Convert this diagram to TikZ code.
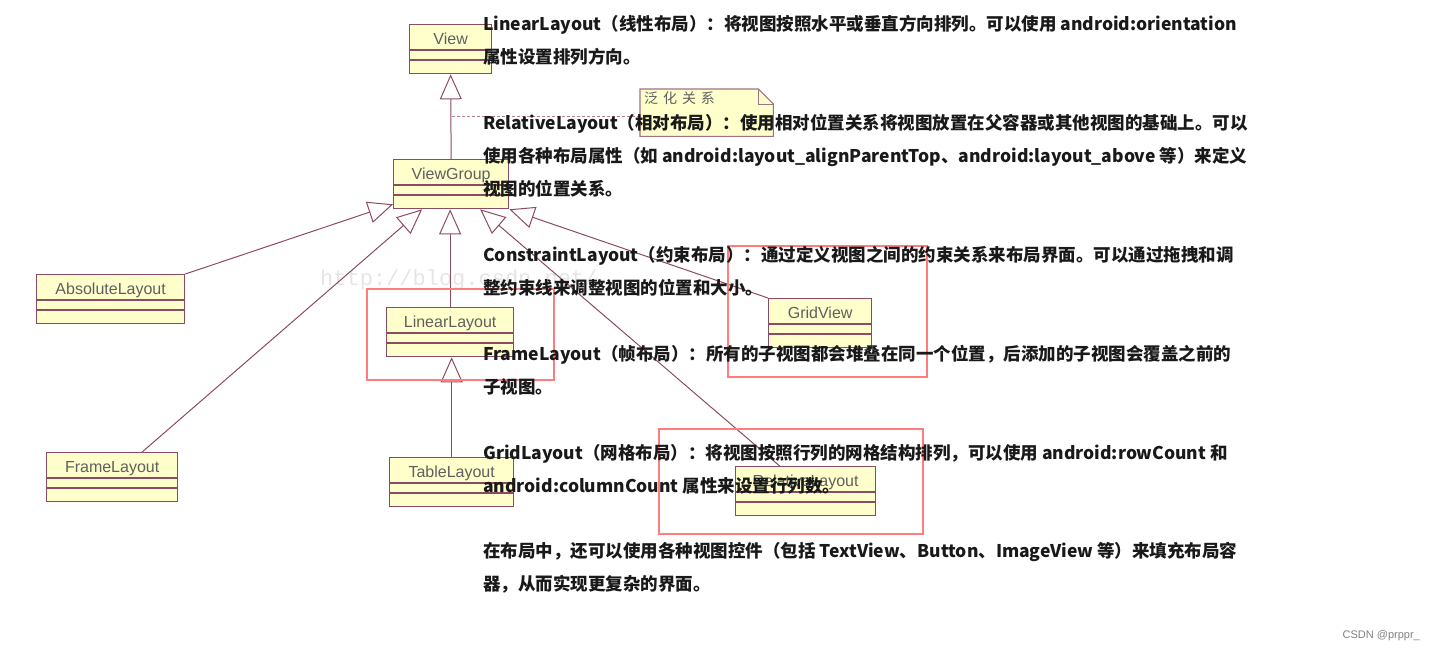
\documentclass[tikz,border=0pt]{standalone}
\usepackage{fontspec}
\setmainfont{Liberation Sans}
\newfontfamily\cjk{Noto Sans CJK SC}
\newfontfamily\notefont[LetterSpace=35]{Noto Sans CJK SC}
\newfontfamily\wmfont{Liberation Mono}
\usetikzlibrary{arrows.meta,positioning,calc}

\definecolor{umlline}{RGB}{140,75,100}
\definecolor{umlfill}{RGB}{255,255,204}
\definecolor{umltext}{RGB}{95,95,95}
\definecolor{hilite}{RGB}{255,125,125}

\begin{document}
\begin{tikzpicture}[
  x=1pt, y=-1pt,
  cls/.style={draw=umlline, fill=umlfill, line width=1.3pt, anchor=north west,
    text=umltext, font=\fontsize{16}{18}\selectfont, inner xsep=0pt,
    inner ysep=7pt, text height=13pt, text depth=22pt},
  gen/.style={draw=umlline, line width=1pt,
    -{Triangle[open, length=25pt, width=22pt]}},
  sep/.style={draw=umlline, line width=1.3pt},
  box/.style={draw=hilite, line width=1.6pt},
  txt/.style={anchor=base west, inner sep=0pt, align=left, text=black!90,
    font=\cjk\bfseries\fontsize{17.5}{33}\selectfont}
]
\useasboundingbox (0,0) rectangle (1437,656);

% watermark behind the diagram
\node[anchor=west, inner sep=0pt, text=black!10, font=\wmfont\fontsize{22}{22}\selectfont]
  (wmark) at (320,280) {http://blog.csdn.net/};

% classes
\node[cls, minimum width=82pt] (view) at (409,24) {View};
\node[cls, minimum width=115pt] (vgroup) at (393,159) {ViewGroup};
\node[cls, minimum width=148pt] (abs) at (36,274) {AbsoluteLayout};
\node[cls, minimum width=131pt] (frame) at (46,452) {FrameLayout};
\node[cls, minimum width=127pt] (linear) at (386,307) {LinearLayout};
\node[cls, minimum width=124pt] (table) at (389,457) {TableLayout};
\node[cls, minimum width=103pt] (grid) at (768,298) {GridView};
\node[cls, minimum width=140pt] (rel) at (735,466) {RelativeLayout};
\foreach \n in {view,vgroup,abs,frame,linear,table,grid,rel} {
  \draw[sep] ($(\n.north west)+(0,26)$) -- ($(\n.north east)+(0,26)$);
  \draw[sep] ($(\n.north west)+(0,36)$) -- ($(\n.north east)+(0,36)$);
}

% note
\node[anchor=north west, minimum width=133pt, minimum height=47pt, inner sep=0pt]
  (note) at (640,89) {};
\draw[fill=umlfill, draw=umlline!80, line width=1.1pt]
  (note.north west) -- ([xshift=-15pt]note.north east)
  -- ([yshift=-15pt]note.north east) -- (note.south east)
  -- (note.south west) -- cycle;
\draw[draw=umlline!80, line width=1pt]
  ([xshift=-15pt]note.north east) |- ([yshift=-15pt]note.north east);
\node[below right=3pt and 4pt of note.north west, inner sep=0pt, text=umltext,
  font=\notefont\fontsize{14}{14}\selectfont] (notelbl) {泛化关系};
\coordinate (notepin) at ([yshift=-4pt]note.west);
\draw[umlline!70, line width=1pt, dash pattern=on 3pt off 2pt]
  (notepin) -- (notepin -| view.south);

% generalisations
\draw[gen] (vgroup.north) -- (view.south);
\draw[gen] (abs.north east) -- ([yshift=5pt]vgroup.south west);
\draw[gen] ([xshift=30pt]frame.north) -- ([xshift=-29pt]vgroup.south);
\draw[gen] (linear.north) -- (linear.north |- vgroup.south);
\draw[gen] ([xshift=-26pt]rel.north) -- ([xshift=29pt]vgroup.south);
\draw[gen] (grid.north west) -- (vgroup.south east);
\draw[gen] (table.north) -- (table.north |- linear.south);

% highlight frames
\draw[box] (367,289) rectangle (554,380);
\draw[box] (728,246) rectangle (927,377);
\draw[box] (659,429) rectangle (923,534);

% explanation text (placed at the baseline of the last line)
\node[txt] (p1) at (483,63.5) {LinearLayout（线性布局）：将视图按照水平或垂直方向排列。可以使用 android:orientation\\属性设置排列方向。};
\node[txt] (p2) at (483,195.5) {RelativeLayout（相对布局）：使用相对位置关系将视图放置在父容器或其他视图的基础上。可以\\使用各种布局属性（如 android:layout\_alignParentTop、android:layout\_above 等）来定义\\视图的位置关系。};
\node[txt] (p3) at (483,294.5) {ConstraintLayout（约束布局）：通过定义视图之间的约束关系来布局界面。可以通过拖拽和调\\整约束线来调整视图的位置和大小。};
\node[txt] (p4) at (483,393.5) {FrameLayout（帧布局）：所有的子视图都会堆叠在同一个位置，后添加的子视图会覆盖之前的\\子视图。};
\node[txt] (p5) at (483,492.5) {GridLayout（网格布局）：将视图按照行列的网格结构排列，可以使用 android:rowCount 和\\android:columnCount 属性来设置行列数。};
\node[txt] (p6) at (483,590.5) {在布局中，还可以使用各种视图控件（包括 TextView、Button、ImageView 等）来填充布局容\\器，从而实现更复杂的界面。};

\node[anchor=east, inner sep=0pt, text=black!50, font=\fontsize{11}{11}\selectfont]
  (csdn) at (1420,636) {CSDN @prppr\_};
\end{tikzpicture}
\end{document}
